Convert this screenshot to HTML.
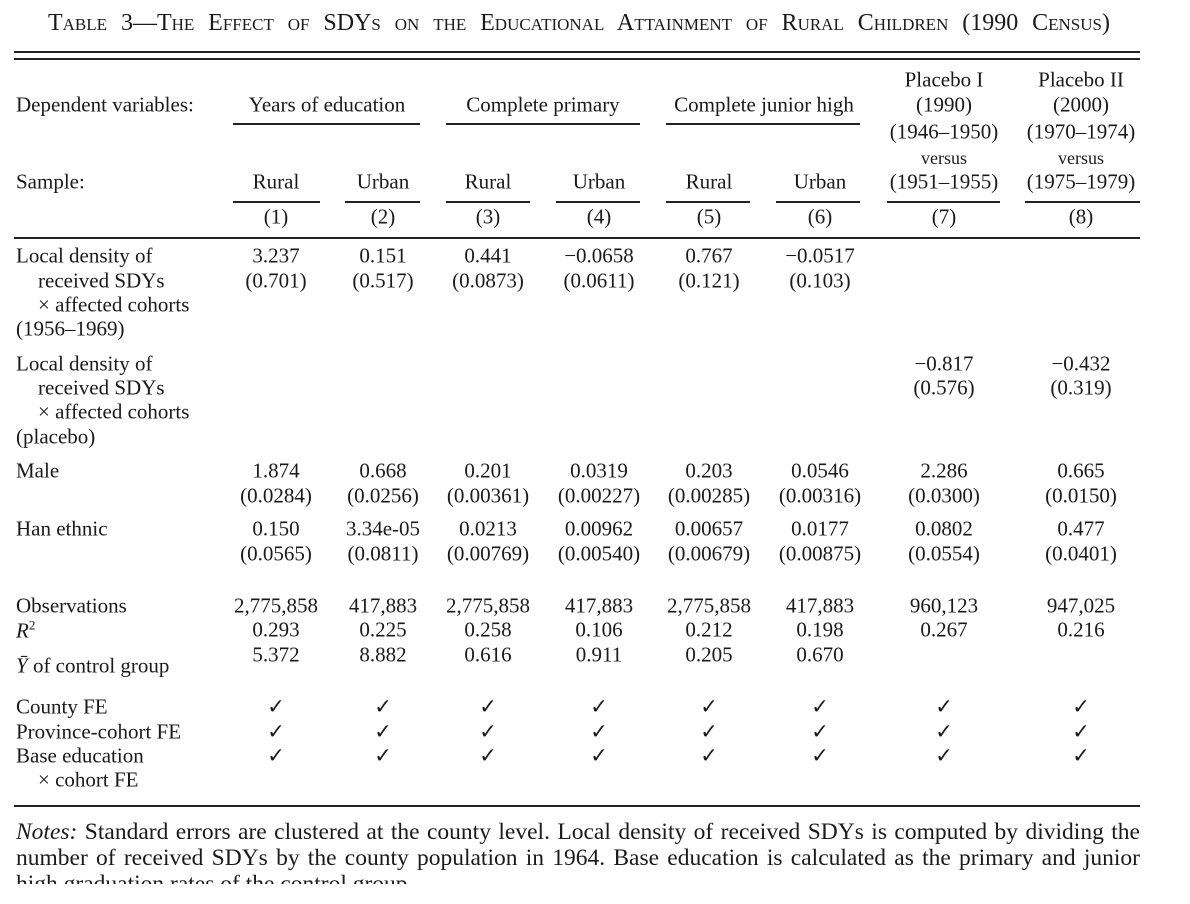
<!DOCTYPE html>
<html><head><meta charset="utf-8"><style>
body{margin:0;background:#fff;width:1190px;height:904px;overflow:hidden;position:relative;font-family:"Liberation Serif",serif;color:#1a1a1a}
.t{position:absolute;font-size:21px;white-space:nowrap;line-height:1;transform:translateY(-50%)}
.c{transform:translate(-50%,-50%)}
.s{font-size:18px}
.ln{position:absolute;background:#222;height:1.5px}
.title{position:absolute;left:48px;top:11px;width:1062px;font-size:24px;font-variant:small-caps;white-space:nowrap;text-align:justify;text-align-last:justify;line-height:1}
.note{position:absolute;left:16px;width:1124px;font-size:23.5px;line-height:1;text-align:justify;text-align-last:justify;white-space:nowrap}
</style></head><body>
<div class="title">Table 3—The Effect of SDYs on the Educational Attainment of Rural Children (1990 Census)</div>
<div class="ln" style="left:14px;top:51px;width:1126px;height:2px"></div>
<div class="ln" style="left:14px;top:58px;width:1126px;height:2px"></div>
<div class="ln" style="left:14px;top:237px;width:1126px"></div>
<div class="ln" style="left:14px;top:805px;width:1126px"></div>
<div class="note" style="top:821px"><i>Notes:</i> Standard errors are clustered at the county level. Local density of received SDYs is computed by dividing the</div>
<div class="note" style="top:847px">number of received SDYs by the county population in 1964. Base education is calculated as the primary and junior</div>
<div class="note" style="top:873px;height:11px;overflow:hidden;text-align-last:left">high graduation rates of the control group.</div>
<script>
const colX=[276,383,488,599,709,820,944,1081];
const rows=[
 [256,["3.237","0.151","0.441","−0.0658","0.767","−0.0517","",""]],
 [281,["(0.701)","(0.517)","(0.0873)","(0.0611)","(0.121)","(0.103)","",""]],
 [364,["","","","","","","−0.817","−0.432"]],
 [388,["","","","","","","(0.576)","(0.319)"]],
 [471,["1.874","0.668","0.201","0.0319","0.203","0.0546","2.286","0.665"]],
 [496,["(0.0284)","(0.0256)","(0.00361)","(0.00227)","(0.00285)","(0.00316)","(0.0300)","(0.0150)"]],
 [529,["0.150","3.34e-05","0.0213","0.00962","0.00657","0.0177","0.0802","0.477"]],
 [554,["(0.0565)","(0.0811)","(0.00769)","(0.00540)","(0.00679)","(0.00875)","(0.0554)","(0.0401)"]],
 [606,["2,775,858","417,883","2,775,858","417,883","2,775,858","417,883","960,123","947,025"]],
 [630,["0.293","0.225","0.258","0.106","0.212","0.198","0.267","0.216"]],
 [655,["5.372","8.882","0.616","0.911","0.205","0.670","",""]],
 [707,Array(8).fill("✓")],[732,Array(8).fill("✓")],[756,Array(8).fill("✓")],
 [182,["Rural","Urban","Rural","Urban","Rural","Urban","(1951–1955)","(1975–1979)"]],
 [217,["(1)","(2)","(3)","(4)","(5)","(6)","(7)","(8)"]]
];
const labels=[
 [16,105,"Dependent variables:"],[16,182,"Sample:"],
 [16,256,"Local density of"],[38,281,"received SDYs"],[38,305,"× affected cohorts"],[16,329,"(1956–1969)"],
 [16,364,"Local density of"],[38,388,"received SDYs"],[38,412,"× affected cohorts"],[16,437,"(placebo)"],
 [16,471,"Male"],[16,529,"Han ethnic"],[16,606,"Observations"],[16,630,"<i>R</i><sup style='font-size:13px'>2</sup>"],
 [16,666,"<i>Ȳ</i> of control group"],[16,707,"County FE"],[16,732,"Province-cohort FE"],[16,756,"Base education"],[38,780,"× cohort FE"]
];
const heads=[[327,105,"Years of education"],[543,105,"Complete primary"],[764,105,"Complete junior high"],
 [944,80,"Placebo I"],[944,105,"(1990)"],[944,132,"(1946–1950)"],[1081,80,"Placebo II"],[1081,105,"(2000)"],[1081,132,"(1970–1974)"]];
const groupRules=[[233,420],[446,640],[666,860]];
const colRules=[[233,320],[345,420],[446,530],[556,640],[666,750],[776,860],[887,1000],[1025,1140]];
function mk(x,y,html,center,cls){const d=document.createElement('div');d.className='t'+(center?' c':'')+(cls?' '+cls:'');d.style.left=x+'px';d.style.top=y+'px';d.innerHTML=html;document.body.appendChild(d);return d;}
labels.forEach(l=>{const d=mk(l[0],l[1],l[2],false);

});
heads.forEach(h=>{const d=mk(h[0],h[1],h[2],true);

});
[944,1081].forEach(x=>{const d=mk(x,158,"versus",true,'s');

});
rows.forEach(r=>r[1].forEach((v,i)=>{if(!v)return;const d=mk(colX[i],r[0],v,true);

}));
function rule(a,b,y){const d=document.createElement('div');d.className='ln';d.style.left=a+'px';d.style.width=(b-a)+'px';d.style.top=y+'px';document.body.appendChild(d);return d;}
groupRules.forEach(g=>{const d=rule(g[0],g[1],123);

});
colRules.forEach(g=>{const d=rule(g[0],g[1],201);

});
</script>
</body></html>
